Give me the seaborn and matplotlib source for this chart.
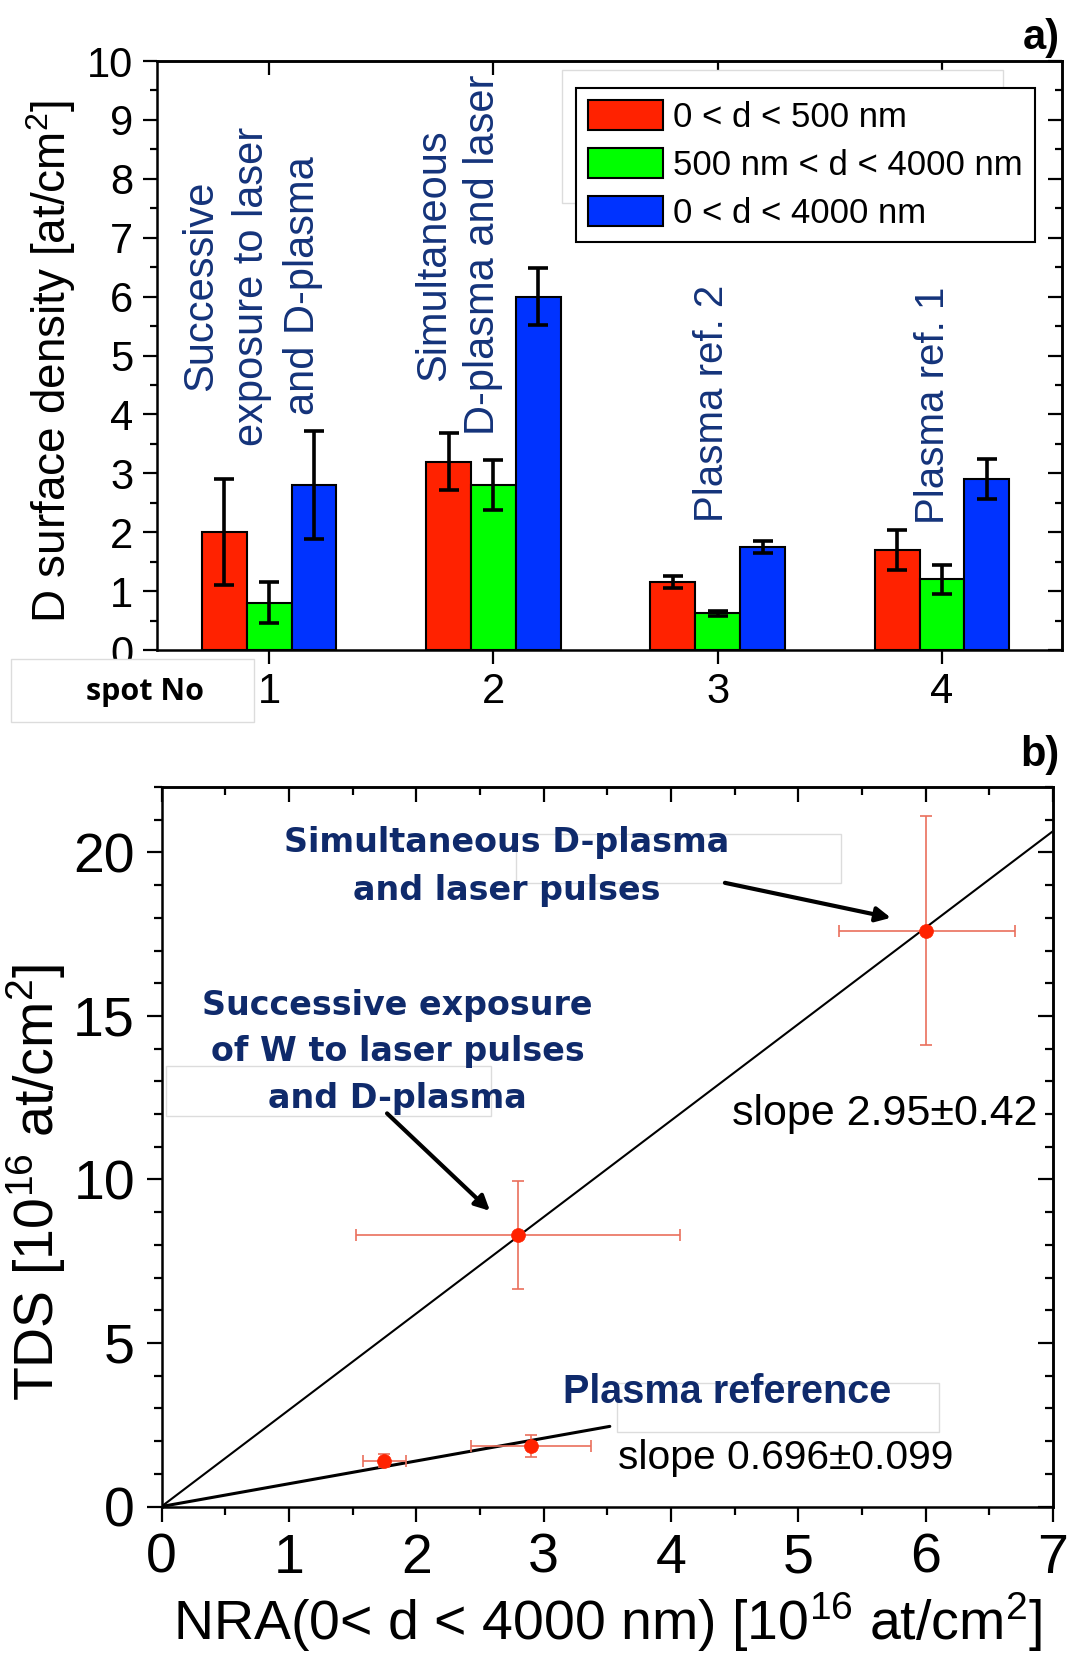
import numpy as np
import pandas as pd
import matplotlib
matplotlib.use("Agg")
import matplotlib.pyplot as plt
import seaborn as sns
from matplotlib.ticker import MultipleLocator
from matplotlib.patches import Rectangle

# ---------------- data: panel a ----------------
spots = ["1", "2", "3", "4"]
ranges = ["0 < d < 500 nm", "500 nm < d < 4000 nm", "0 < d < 4000 nm"]
val_0_500 = [2.0, 3.2, 1.15, 1.7]
err_0_500 = [0.9, 0.49, 0.1, 0.34]
val_500_4000 = [0.8, 2.8, 0.62, 1.2]
err_500_4000 = [0.35, 0.42, 0.04, 0.245]
val_0_4000 = [2.8, 6.0, 1.75, 2.9]
err_0_4000 = [0.92, 0.48, 0.1, 0.34]
bar_colors = ["#ff2200", "#00ff00", "#0033ff"]
spot_notes = ["Successive\nexposure to laser\nand D-plasma",
              "Simultaneous\nD-plasma and laser",
              "Plasma ref. 2",
              "Plasma ref. 1"]

# ---------------- data: panel b ----------------
nra = [1.75, 2.9, 2.8, 6.0]
nra_err_lo = [0.17, 0.47, 1.27, 0.68]
nra_err_hi = [0.17, 0.47, 1.27, 0.70]
tds = [1.4, 1.85, 8.3, 17.6]
tds_err = [0.2, 0.33, 1.65, 3.5]
fit_slopes = [2.95, 0.696]
fit_xmax = [7.0, 3.52]
fit_labels = ["slope 2.95\u00b10.42", "slope 0.696\u00b10.099"]
group_labels = ["Simultaneous D-plasma\nand laser pulses",
                "Successive exposure\nof W to laser pulses\nand D-plasma",
                "Plasma reference"]

sns.set_style("ticks")
plt.rcParams["font.family"] = ["Liberation Sans", "DejaVu Sans"]
plt.rcParams["mathtext.default"] = "regular"
for k in ["text.color", "axes.labelcolor", "xtick.color", "ytick.color",
          "axes.edgecolor"]:
    plt.rcParams[k] = "black"

W, H = 1069, 1663
fig = plt.figure(figsize=(W / 100, H / 100), dpi=100)

NAVY = "#14337a"
NAVY_B = "#0f2a6b"


def px_rect(ax, x0, y0, x1, y1, z):
    r = Rectangle((x0 / W, 1 - y1 / H), (x1 - x0) / W, (y1 - y0) / H,
                  transform=fig.transFigure, facecolor="white",
                  edgecolor="#dcdcdc", lw=1.0, zorder=z, clip_on=False)
    if ax is None:
        fig.add_artist(r)
    else:
        ax.add_patch(r)


# =============== panel a =================
ax1 = fig.add_axes([157 / W, 1 - 650 / H, (1062 - 157) / W, (650 - 61) / H])
df = pd.DataFrame({
    "spot": spots * 3,
    "range": [r for r in ranges for _ in spots],
    "value": val_0_500 + val_500_4000 + val_0_4000,
    "err": err_0_500 + err_500_4000 + err_0_4000,
})
sns.barplot(data=df, x="spot", y="value", hue="range", order=spots,
            hue_order=ranges, palette=bar_colors, saturation=1, width=0.6,
            edgecolor="black", linewidth=1.5, errorbar=None, ax=ax1)

for cont, r in zip(ax1.containers, ranges):
    sub = df[df["range"] == r].set_index("spot").loc[spots]
    xs = [b.get_x() + b.get_width() / 2 for b in cont]
    ax1.errorbar(xs, sub["value"].values, yerr=sub["err"].values, fmt="none",
                 ecolor="black", elinewidth=2.6, capsize=7, capthick=2.6,
                 zorder=6)

ax1.set_xlim(-0.5, 3.535)
ax1.set_ylim(0, 10)
ax1.yaxis.set_major_locator(MultipleLocator(1))
ax1.yaxis.set_minor_locator(MultipleLocator(0.5))
ax1.tick_params(axis="both", which="major", direction="out", length=10,
                width=1.6, labelsize=30, top=False, right=False, color="black",
                labelcolor="black")
ax1.tick_params(axis="y", which="minor", direction="out", length=5, width=1.6,
                right=False)
ax1.tick_params(axis="x", pad=6)
ax1.tick_params(axis="y", pad=7)
for s in ax1.spines.values():
    s.set_linewidth(1.8)
    s.set_color("black")
ax1.set_xlabel("")
ax1.set_ylabel("D surface density [at/cm$^2$]", fontsize=33, va="center",
               color="black")
ax1.yaxis.set_label_coords(-0.117, 0.49)

secx1 = ax1.secondary_xaxis("top")
secx1.set_xticks([0, 1, 2, 3], labels=["", "", "", ""])
secx1.tick_params(direction="in", length=10, width=1.6)
secy1 = ax1.secondary_yaxis("right")
secy1.yaxis.set_major_locator(MultipleLocator(1))
secy1.yaxis.set_minor_locator(MultipleLocator(0.5))
secy1.tick_params(axis="y", which="major", direction="in", length=10, width=1.6,
                  labelright=False, labelleft=False)
secy1.tick_params(axis="y", which="minor", direction="in", length=5, width=1.6)
for s in list(secx1.spines.values()) + list(secy1.spines.values()):
    s.set_linewidth(1.8)

handles, labels = ax1.get_legend_handles_labels()
if ax1.get_legend() is not None:
    ax1.get_legend().remove()
leg = ax1.legend(handles, labels, loc="upper right",
                 bbox_to_anchor=(0.970, 0.954), fontsize=25, frameon=True,
                 fancybox=False, edgecolor="black", framealpha=1,
                 handlelength=2.15, handleheight=0.95, handletextpad=0.3,
                 labelspacing=0.4, borderpad=0.35, borderaxespad=0)
leg.get_frame().set_linewidth(1.5)
leg.set_zorder(10)
for h in leg.legend_handles:
    h.set_edgecolor("black")
    h.set_linewidth(1.5)
px_rect(ax1, 562, 70, 1003, 203, 4)

note_pos = [(-0.077, 6.18), (0.844, 6.71), (1.976, 4.19), (2.96, 4.16)]
note_size = [30, 30, 29, 29]
note_spacing = [1.36, 1.30, 1.3, 1.3]
for (nx, ny), note, fs, ls in zip(note_pos, spot_notes, note_size, note_spacing):
    ax1.text(nx, ny, note, rotation=90, ha="center", va="center",
             multialignment="center", fontsize=fs, color=NAVY,
             linespacing=ls, zorder=7)

px_rect(None, 11, 659, 254, 722, 2)
fig.text(145 / W, 1 - 692 / H, "spot No", fontsize=22, fontweight="bold",
         family=["Open Sans", "DejaVu Sans"], ha="center", va="center",
         zorder=3)
fig.text(1060 / W, 1 - 38 / H, "a)", fontsize=30, fontweight="bold",
         ha="right", va="center")

# =============== panel b =================
ax2 = fig.add_axes([161.5 / W, 1 - 1506.5 / H, 891.5 / W, 719.5 / H])
for slope, xmax, lw in zip(fit_slopes, fit_xmax, [1.5, 2.2]):
    xs = np.array([0.0, xmax])
    sns.lineplot(x=xs, y=slope * xs, color="black", lw=lw, ax=ax2, zorder=3)

ax2.errorbar(nra, tds, xerr=[nra_err_lo, nra_err_hi], yerr=tds_err,
             fmt="none", ecolor="#ea6f5c", elinewidth=1.2, capsize=4.5,
             capthick=1.2, zorder=4)
sns.scatterplot(x=nra, y=tds, color="#ff2200", s=100, edgecolor="#ff2200",
                linewidth=0.5, ax=ax2, zorder=5)

ax2.set_xlim(0, 7)
ax2.set_ylim(0, 22)
ax2.xaxis.set_major_locator(MultipleLocator(1))
ax2.xaxis.set_minor_locator(MultipleLocator(0.5))
ax2.yaxis.set_major_locator(MultipleLocator(5))
ax2.yaxis.set_minor_locator(MultipleLocator(1))
ax2.tick_params(axis="both", which="major", direction="out", length=11,
                width=1.6, labelsize=40, top=False, right=False, pad=8,
                color="black", labelcolor="black")
ax2.tick_params(axis="both", which="minor", direction="out", length=5.5,
                width=1.6, top=False, right=False)
for s in ax2.spines.values():
    s.set_linewidth(1.8)
    s.set_color("black")

secx2 = ax2.secondary_xaxis("top")
secx2.xaxis.set_major_locator(MultipleLocator(1))
secx2.xaxis.set_minor_locator(MultipleLocator(0.5))
secx2.tick_params(axis="x", which="major", direction="in", length=11, width=1.6,
                  labeltop=False)
secx2.tick_params(axis="x", which="minor", direction="in", length=5.5, width=1.6)
secy2 = ax2.secondary_yaxis("right")
secy2.yaxis.set_major_locator(MultipleLocator(5))
secy2.yaxis.set_minor_locator(MultipleLocator(1))
secy2.tick_params(axis="y", which="major", direction="in", length=11, width=1.6,
                  labelright=False)
secy2.tick_params(axis="y", which="minor", direction="in", length=5.5, width=1.6)
for s in list(secx2.spines.values()) + list(secy2.spines.values()):
    s.set_linewidth(1.8)

ax2.set_xlabel("NRA(0< d < 4000 nm) [10$^{16}$ at/cm$^{2}$]", fontsize=40,
               va="center", color="black")
ax2.xaxis.set_label_coords(0.5, -0.161)
ax2.set_ylabel("TDS [10$^{16}$ at/cm$^{2}$]", fontsize=40, va="center",
               color="black")
ax2.yaxis.set_label_coords(-0.14, 0.45)

# faint boxes
px_rect(ax2, 516, 834, 841, 883, 1)
px_rect(ax2, 166, 1066, 491, 1116, 1)
px_rect(ax2, 617, 1383, 939, 1432, 1)

ax2.text(2.712, 19.57, group_labels[0], ha="center", va="center",
         multialignment="center", fontsize=24, fontweight="bold",
         family=["DejaVu Sans"], color=NAVY_B, linespacing=1.55, zorder=6)
ax2.text(1.855, 13.90, group_labels[1], ha="center", va="center",
         multialignment="center", fontsize=24, fontweight="bold",
         family=["DejaVu Sans"], color=NAVY_B, linespacing=1.53, zorder=6)
ax2.text(4.444, 3.16, group_labels[2], ha="center", va="baseline",
         fontsize=28.5, fontweight="bold", color=NAVY_B, zorder=6)

ax2.text(4.479, 11.66, fit_labels[0], ha="left", va="baseline", fontsize=31,
         color="black", zorder=6)
ax2.text(3.585, 1.137, fit_labels[1], ha="left", va="baseline", fontsize=29.3,
         color="black", zorder=6)

arrow_kw = dict(arrowstyle="-|>", color="black", lw=3, mutation_scale=22,
                shrinkA=0, shrinkB=0)
ax2.annotate("", xy=(5.727, 18.0), xytext=(4.424, 19.07), arrowprops=arrow_kw,
             zorder=6)
ax2.annotate("", xy=(2.579, 9.04), xytext=(1.771, 12.02), arrowprops=arrow_kw,
             zorder=6)

fig.text(1060 / W, 1 - 755 / H, "b)", fontsize=30, fontweight="bold",
         ha="right", va="center")

fig.savefig("out.png", dpi=100, facecolor="white")
